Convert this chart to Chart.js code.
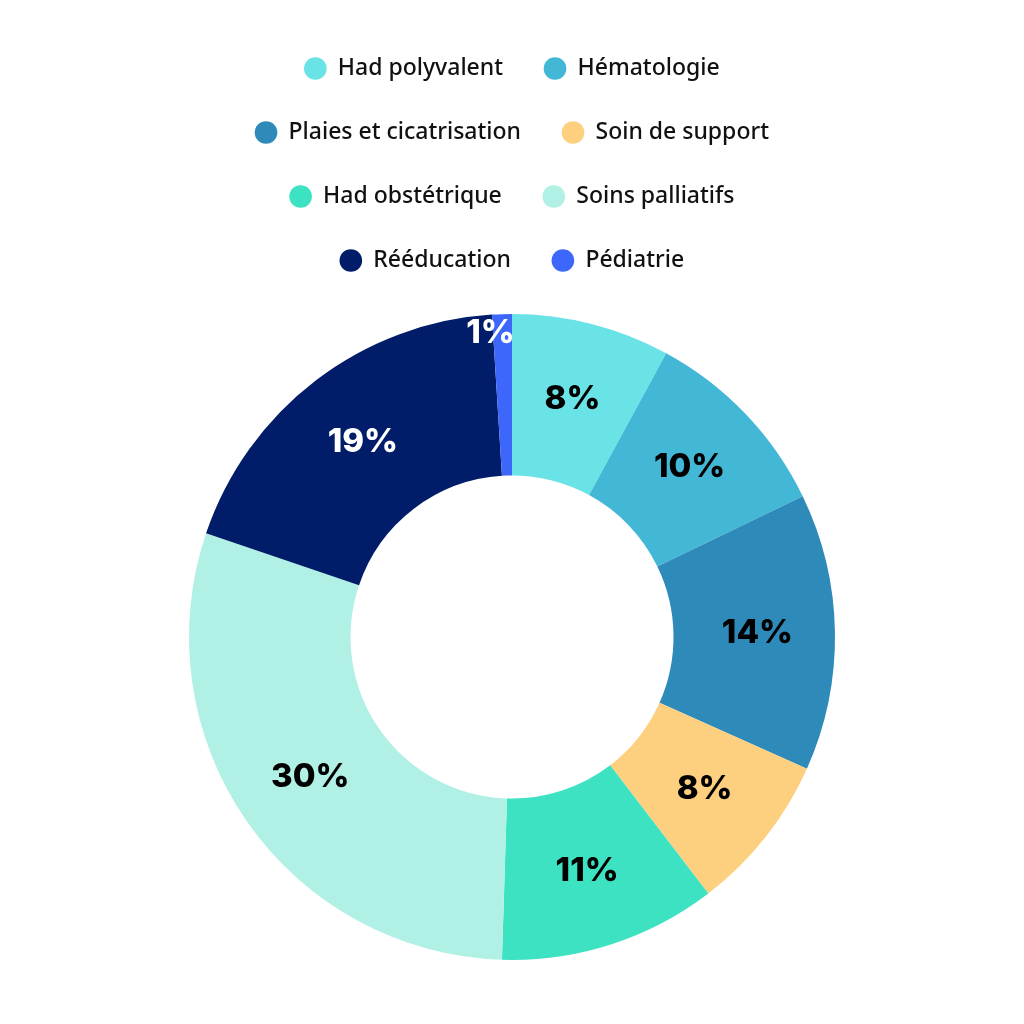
<!DOCTYPE html>
<html>
<head>
<meta charset="utf-8">
<script src="https://cdn.jsdelivr.net/npm/chart.js@4/dist/chart.umd.min.js"></script>
<style>
  html, body { margin: 0; padding: 0; background: #ffffff; }
  #wrap { width: 1024px; height: 1024px; }
</style>
</head>
<body>
<div id="wrap"><canvas id="chartServices"></canvas></div>
<script>
/* ---- Data ---- */
const serviceLabels = [
  "Had polyvalent",
  "Hématologie",
  "Plaies et cicatrisation",
  "Soin de support",
  "Had obstétrique",
  "Soins palliatifs",
  "Rééducation",
  "Pédiatrie",
];
const serviceShares = [8, 10, 14, 8, 11, 30, 19, 1];
const serviceColors = [
  "#6AE3E7", "#43B7D6", "#2E8AB9", "#FDD07F",
  "#3CE2C2", "#B1F0E4", "#011C68", "#3D67FA",
];
const labelColors = [
  "#000000", "#000000", "#000000", "#000000",
  "#000000", "#000000", "#ffffff", "#ffffff",
];

/* ---- Legend spacing: push the ring down below the legend ---- */
const legendGap = {
  id: "legendGap",
  beforeInit(chart) {
    const fit = chart.legend.fit;
    chart.legend.fit = function () {
      fit.bind(chart.legend)();
      this.height += 32;
    };
  },
};

/* ---- Percentages drawn inside each slice ---- */
const sliceLabels = {
  id: "sliceLabels",
  afterDatasetsDraw(chart, args, opts) {
    const { ctx } = chart;
    const meta = chart.getDatasetMeta(0);
    ctx.save();
    ctx.font = opts.font;
    ctx.textAlign = "center";
    ctx.textBaseline = "middle";
    meta.data.forEach((arc, i) => {
      const { startAngle, endAngle, innerRadius, outerRadius, x, y } =
        arc.getProps(["startAngle", "endAngle", "innerRadius", "outerRadius", "x", "y"], true);
      const mid = (startAngle + endAngle) / 2;
      const frac = opts.radial[i] ?? 0.52;
      const r = innerRadius + (outerRadius - innerRadius) * frac;
      const nudge = opts.nudge[i] || [0, 0];
      ctx.fillStyle = labelColors[i];
      ctx.fillText(
        `${serviceShares[i]}%`,
        x + Math.cos(mid) * r + nudge[0],
        y + Math.sin(mid) * r + nudge[1],
      );
    });
    ctx.restore();
  },
};

new Chart(document.getElementById("chartServices"), {
  type: "doughnut",
  data: {
    labels: serviceLabels,
    datasets: [
      {
        data: serviceShares,
        backgroundColor: serviceColors,
        borderWidth: 0,
      },
    ],
  },
  options: {
    responsive: true,
    maintainAspectRatio: false,
    animation: false,
    cutout: "50%",
    layout: {
      padding: { top: 16, bottom: 64, left: 172, right: 172 },
    },
    plugins: {
      tooltip: { enabled: false },
      legend: {
        display: true,
        position: "top",
        labels: {
          usePointStyle: true,
          pointStyle: "circle",
          boxWidth: 22,
          boxHeight: 16,
          padding: 41,
          color: "#111111",
          font: { family: "'Noto Sans', sans-serif", size: 23, weight: "500" },
        },
      },
      sliceLabels: {
        font: "800 33px Inter, sans-serif",
        radial: { 7: 0.88 },
        nudge: { 7: [-12, 0] },
      },
    },
  },
  plugins: [legendGap, sliceLabels],
});
</script>
</body>
</html>
